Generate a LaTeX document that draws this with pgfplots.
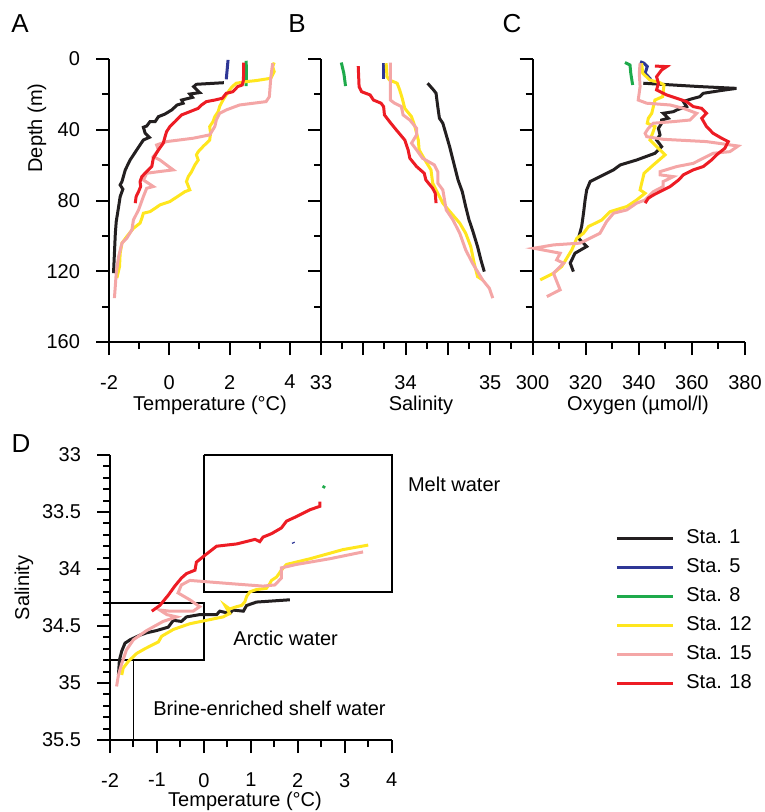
\documentclass[border=0pt]{standalone}
\usepackage{fontspec}
\setmainfont{Liberation Sans}
\usepackage{pgfplots}
\pgfplotsset{compat=1.18}

\definecolor{c1}{RGB}{35,31,32}
\definecolor{c5}{RGB}{46,55,150}
\definecolor{c8}{RGB}{30,170,75}
\definecolor{c12}{RGB}{255,230,30}
\definecolor{c15}{RGB}{244,166,166}
\definecolor{c18}{RGB}{237,28,36}

\newcommand{\lab}{\fontsize{10}{12}\selectfont}

\pgfplotsset{
  panel/.style={
    scale only axis, axis lines*=left, tick align=outside,
    axis line style={line width=1pt},
    every tick/.style={black, line width=1pt},
    major tick length=6.5pt, minor tick length=3.5pt,
    ticklabel style={font=\lab},
    xticklabel style={yshift=-6.5pt},
    yticklabel style={xshift=-4.5pt},
    /pgf/number format/assume math mode=true,
    clip=false, y dir=reverse,
    every axis plot/.append style={line width=1.5pt, no markers},
  },
  prof/.style={
    panel, width=105.5pt, height=141.5pt, anchor=center,
    ymin=0, ymax=160, ytick={0,40,80,120,160}, minor ytick={20,60,100,140},
  },
}

\begin{document}
\begin{tikzpicture}
\useasboundingbox (0,0) rectangle (382pt,-406pt);

% A: temperature
\begin{axis}[prof, at={(107.25pt,-100.25pt)},
  xmin=-2, xmax=5, xtick={-2,0,2,4}, minor xtick={-1,1,3}]
\addplot[c1] coordinates {(1.81,13.4)(0.90,14.3)(0.81,15.6)(1.01,19.0)(0.68,19.8)(0.77,21.7)(0.41,23.2)(0.46,25.0)(0.26,26.0)(0.08,28.8)(-0.14,31.1)(-0.36,32.6)(-0.47,35.4)(-0.64,35.4)(-0.75,37.9)(-0.86,38.6)(-0.80,42.0)(-0.66,44.3)(-0.86,45.8)(-1.08,51.4)(-1.30,57.1)(-1.46,62.7)(-1.57,69.3)(-1.63,71.2)(-1.54,73.6)(-1.63,77.8)(-1.68,83.4)(-1.76,91.9)(-1.79,98.5)(-1.82,109.8)(-1.85,121.1)};
\addplot[c5] coordinates {(1.95,0.5)(1.92,6)(1.89,11.5)};
\addplot[c8] coordinates {(2.55,1)(2.56,8)(2.55,15.3)};
\addplot[c12] coordinates {(3.48,2)(3.43,4.3)(3.48,7.2)(3.37,10.9)(2.88,12.2)(2.55,12.8)(2.22,13.7)(2.09,15.6)(2.00,17.5)(1.89,20.3)(1.78,23.2)(1.67,26.9)(1.62,29.8)(1.51,32.6)(1.45,35.4)(1.34,38.2)(1.37,42.0)(1.34,45.8)(1.12,49.5)(0.96,52.4)(0.90,54.2)(0.96,57.1)(0.85,59.9)(0.74,63.7)(0.63,66.5)(0.57,69.3)(0.68,74.0)(0.52,75.0)(0.19,78.7)(0.02,80.6)(-0.31,82.5)(-0.47,84.4)(-0.64,86.3)(-0.86,87.2)(-0.91,90.0)(-0.97,92.8)(-1.19,95.7)(-1.41,100.4)(-1.57,104.1)(-1.63,109.8)(-1.65,117.3)(-1.74,123.9)};
\addplot[c15] coordinates {(3.43,2.4)(3.37,10)(3.32,21.3)(3.21,24.1)(2.33,26.0)(1.89,28.8)(1.67,30.7)(1.56,34.5)(1.51,38.2)(1.34,42.9)(0.79,44.8)(-0.09,46.7)(-0.42,48.6)(-0.36,51.4)(-0.53,55.2)(-0.31,57.1)(0.13,62.7)(-0.31,63.6)(-0.75,64.6)(-0.86,68.4)(-0.53,72.1)(-0.75,73.1)(-0.86,77.8)(-1.02,85.3)(-1.19,91.0)(-1.24,96.6)(-1.41,101.3)(-1.57,104.1)(-1.68,111.7)(-1.76,121.1)(-1.82,135.2)};
\addplot[c18] coordinates {(2.47,2)(2.46,11.9)(2.42,14.7)(2.27,15.6)(2.11,18.5)(1.89,19.4)(1.76,22.2)(1.51,23.2)(1.23,24.1)(1.07,26.0)(0.96,27.9)(0.68,29.8)(0.41,31.6)(0.30,33.5)(0.19,35.4)(0.02,38.2)(-0.09,41.1)(-0.14,43.9)(-0.20,47.6)(-0.36,51.4)(-0.53,56.1)(-0.58,60.8)(-0.75,63.6)(-0.91,66.5)(-0.97,69.3)(-0.95,72.1)(-1.02,75.0)(-1.10,77.8)(-1.13,81.5)};
\end{axis}

% B: salinity
\begin{axis}[prof, at={(213.375pt,-100.25pt)}, width=105.75pt, yticklabels={},
  xmin=33, xmax=35.5, xtick={33,33.5,34,34.5,35}, xticklabels={33,,34,,35},
  minor xtick={33.25,33.75,34.25,34.75,35.25}]
\addplot[c1] coordinates {(34.26,13.7)(34.33,17.5)(34.36,19.4)(34.38,26.9)(34.40,33.5)(34.44,36.3)(34.48,42.9)(34.52,49.5)(34.56,57.1)(34.62,68.4)(34.67,75.0)(34.71,83.4)(34.75,91.0)(34.79,96.6)(34.85,106.0)(34.89,113.6)(34.93,120.2)};
\addplot[c5] coordinates {(33.74,2.4)(33.74,11.5)};
\addplot[c8] coordinates {(33.24,2)(33.27,8.1)(33.29,15.3)};
\addplot[c12] coordinates {(33.77,2.4)(33.78,10)(33.81,11.9)(33.90,13.7)(33.93,17.5)(33.96,22.2)(33.99,27.9)(34.07,32.6)(34.11,38.2)(34.15,45.8)(34.16,51.4)(34.24,58.0)(34.30,62.7)(34.32,70.2)(34.44,81.5)(34.54,87.2)(34.64,92.8)(34.71,98.5)(34.77,106.0)(34.81,115.4)(34.85,123.0)(34.91,124.9)};
\addplot[c15] coordinates {(33.82,2)(33.82,23.2)(33.87,25.0)(33.95,26.9)(33.97,31.6)(34.05,34.5)(34.13,39.2)(34.13,42.9)(34.07,47.6)(34.13,51.4)(34.20,56.1)(34.34,59.9)(34.38,63.7)(34.38,70.2)(34.44,74.0)(34.48,85.3)(34.56,91.0)(34.64,98.5)(34.71,107.9)(34.79,115.4)(34.91,124.9)(34.99,129.6)(35.03,135.2)};
\addplot[c18] coordinates {(33.44,4)(33.45,15.6)(33.48,18.5)(33.58,20.3)(33.62,23.2)(33.71,25.0)(33.74,26.9)(33.75,31.6)(33.81,35.4)(33.89,40.1)(33.99,45.8)(34.03,51.4)(34.05,56.1)(34.13,60.8)(34.22,64.6)(34.24,68.4)(34.32,73.1)(34.35,75.9)(34.36,81.5)};
\end{axis}

% C: oxygen
\begin{axis}[prof, at={(319.375pt,-100.25pt)}, width=106.25pt, yticklabels={},
  xmin=300, xmax=380, xtick={300,320,...,380}, minor xtick={310,330,350,370}]
\addplot[c1] coordinates {(341.7,13.7)(363.0,15.6)(376.8,16.6)(370.6,17.9)(364.3,19.4)(363.0,21.3)(359.3,22.8)(356.8,24.1)(358.0,26.9)(354.3,28.8)(353.0,29.8)(349.2,30.7)(351.1,33.5)(348.6,34.5)(348.6,36.3)(347.4,39.2)(348.0,42.9)(346.7,45.8)(348.6,49.5)(346.1,53.3)(339.2,57.1)(333.0,59.9)(330.5,62.7)(325.4,66.5)(321.7,69.3)(320.4,74.0)(319.8,79.7)(319.2,87.2)(318.5,94.7)(317.3,101.3)(319.2,104.1)(320.4,106.0)(316.0,109.8)(314.2,115.4)(315.4,120.2)};
\addplot[c5] coordinates {(340.5,1.5)(342.0,2.4)(343.2,4.3)(342.4,8.1)(343.6,10.0)(344.5,11.5)};
\addplot[c8] coordinates {(334.8,2)(336.7,3.4)(337.0,8.1)(337.7,14.7)};
\addplot[c12] coordinates {(341.1,2.4)(341.5,8.1)(344.2,11.9)(348.0,13.4)(349.5,14.7)(349.0,21.3)(346.1,23.2)(345.5,26.9)(344.9,30.7)(343.6,33.5)(343.2,36.3)(346.1,38.2)(345.2,42.0)(344.2,45.8)(347.4,50.5)(349.9,54.2)(345.5,59.9)(342.0,64.6)(341.1,70.2)(340.5,74.0)(342.4,75.9)(339.2,79.7)(335.5,83.4)(329.2,86.3)(326.1,91.0)(321.1,94.7)(319.2,98.5)(316.7,101.3)(314.8,107.9)(311.0,117.3)(307.9,121.1)(302.9,124.9)};
\addplot[c15] coordinates {(340.5,2.4)(340.2,8.1)(340.5,15.6)(339.8,23.2)(343.0,25.0)(351.8,26.0)(356.8,27.9)(361.8,30.7)(359.3,34.5)(353.0,35.4)(345.5,36.3)(343.6,39.2)(342.4,42.0)(343.0,43.9)(349.2,45.4)(365.5,46.7)(377.4,49.2)(374.3,52.4)(368.0,53.3)(364.3,56.1)(360.5,59.0)(354.3,60.8)(348.0,63.7)(348.0,65.5)(353.0,66.5)(349.2,69.3)(349.2,72.1)(345.5,75.0)(342.4,79.7)(339.2,81.5)(335.5,85.3)(330.5,87.2)(327.9,91.9)(325.4,98.5)(321.7,101.3)(317.9,104.1)(307.9,105.1)(300.5,107.0)(310.4,109.8)(309.1,113.6)(311.7,115.4)(307.9,121.1)(310.4,130.5)(305.4,134.3)};
\addplot[c18] coordinates {(346.1,4.0)(350.5,4.3)(348.6,6.2)(346.7,10.0)(347.4,13.7)(346.7,17.5)(350.5,20.3)(354.3,22.2)(358.0,24.1)(360.5,26.9)(363.7,27.9)(365.5,30.7)(363.7,33.5)(365.5,38.2)(368.0,42.0)(371.2,44.8)(373.7,46.7)(372.4,50.5)(369.3,54.2)(367.4,57.1)(364.3,60.8)(360.5,62.7)(356.8,65.5)(355.0,68.4)(351.8,72.1)(348.0,75.0)(345.5,76.9)(343.6,78.7)(342.4,81.5)};
\end{axis}

% D: T-S diagram
\begin{axis}[panel, width=140.85pt, height=142.5pt, anchor=center, at={(125.425pt,-298.75pt)},
  xmin=-2, xmax=4, xtick={-2,...,4}, minor xtick={-1.5,-0.5,...,3.5},
  ymin=33, ymax=35.5, ytick={33,33.5,...,35.5}, minor y tick num=4,
  legend style={draw=none, fill=none, at={(1.7927,0.7404)}, anchor=north west,
    inner sep=0pt, column sep=6pt, row sep=5.3pt,
    nodes={inner sep=0pt, text height=7.2pt, text depth=2pt, font=\lab}},
  legend image code/.code={\draw[#1] (0pt,0pt) -- (28pt,0pt);},
  legend cell align=left]
\addplot[black, line width=0.8pt, forget plot] coordinates {(0,33)(4,33)(4,34.2)(0,34.2)(0,33)};
\addplot[black, line width=0.8pt, forget plot] coordinates {(-2,34.3)(0,34.3)(0,34.8)(-2,34.8)};
\addplot[black, line width=0.8pt, forget plot] coordinates {(-2,34.8)(-1.5,34.8)(-1.5,35.5)};
\addplot[c1] coordinates {(1.83,34.27)(1.12,34.29)(0.91,34.32)(0.84,34.37)(0.62,34.36)(0.55,34.39)(0.34,34.37)(0.27,34.40)(-0.09,34.40)(-0.37,34.42)(-0.48,34.46)(-0.65,34.45)(-0.76,34.51)(-1.01,34.54)(-1.22,34.56)(-1.36,34.58)(-1.57,34.62)(-1.68,34.65)(-1.75,34.72)(-1.80,34.80)(-1.82,34.93)};
\addplot[c5] coordinates {(1.90,33.765)(1.91,33.775)};
\addplot[c8] coordinates {(2.54,33.29)(2.57,33.27)};
\addplot[c12] coordinates {(3.50,33.79)(2.96,33.83)(2.26,33.91)(1.76,33.96)(1.65,34.01)(1.55,34.07)(1.44,34.10)(1.40,34.13)(1.33,34.17)(1.12,34.18)(0.98,34.20)(0.91,34.24)(0.87,34.29)(0.80,34.32)(0.70,34.33)(0.55,34.35)(0.45,34.32)(0.55,34.39)(0.41,34.42)(-0.30,34.48)(-0.65,34.53)(-0.90,34.59)(-0.97,34.64)(-1.26,34.70)(-1.43,34.74)(-1.61,34.81)(-1.72,34.87)(-1.75,34.93)};
\addplot[c15] coordinates {(3.39,33.85)(2.68,33.91)(1.97,33.96)(1.65,33.99)(1.65,34.08)(1.51,34.14)(1.26,34.15)(0.62,34.13)(-0.30,34.10)(-0.48,34.14)(-0.55,34.21)(-0.30,34.27)(-0.09,34.33)(-0.23,34.37)(-0.72,34.37)(-0.94,34.36)(-0.79,34.40)(-0.58,34.42)(-0.87,34.46)(-1.22,34.54)(-1.50,34.62)(-1.65,34.71)(-1.75,34.83)(-1.82,34.93)(-1.86,35.03)};
\addplot[c18] coordinates {(2.47,33.41)(2.47,33.45)(2.26,33.48)(1.97,33.54)(1.76,33.58)(1.65,33.64)(1.44,33.69)(1.26,33.72)(1.19,33.76)(1.09,33.74)(0.70,33.78)(0.27,33.80)(0.02,33.88)(-0.16,33.94)(-0.19,34.01)(-0.37,34.04)(-0.48,34.08)(-0.62,34.15)(-0.76,34.23)(-0.94,34.32)(-1.11,34.37)};
\legend{Sta. 1,Sta. 5,Sta. 8,Sta. 12,Sta. 15,Sta. 18}
\node[anchor=west, inner sep=0pt, font=\lab] at (axis cs:4.34,33.26) {Melt water};
\node[anchor=west, inner sep=0pt, font=\lab] at (axis cs:0.62,34.61) {Arctic water};
\node[anchor=west, inner sep=0pt, font=\lab] at (axis cs:-1.085,35.22) {Brine-enriched shelf water};
\end{axis}

% titles and panel letters
\node[font=\lab, anchor=base] at (105pt,-205pt) {Temperature (°C)};
\node[font=\lab, anchor=base] at (210.5pt,-205pt) {Salinity};
\node[font=\lab, anchor=base] at (319pt,-205pt) {Oxygen (µmol/l)};
\node[font=\lab, anchor=base] at (122.5pt,-403pt) {Temperature (°C)};
\node[font=\lab, rotate=90] at (18.5pt,-64pt) {Depth (m)};
\node[font=\lab, rotate=90] at (12pt,-294pt) {Salinity};
\node[font=\fontsize{13}{15}\selectfont] at (10pt,-12pt) {A};
\node[font=\fontsize{13}{15}\selectfont] at (148.5pt,-12pt) {B};
\node[font=\fontsize{13}{15}\selectfont] at (256pt,-12pt) {C};
\node[font=\fontsize{13}{15}\selectfont] at (10.5pt,-222pt) {D};
\end{tikzpicture}
\end{document}
